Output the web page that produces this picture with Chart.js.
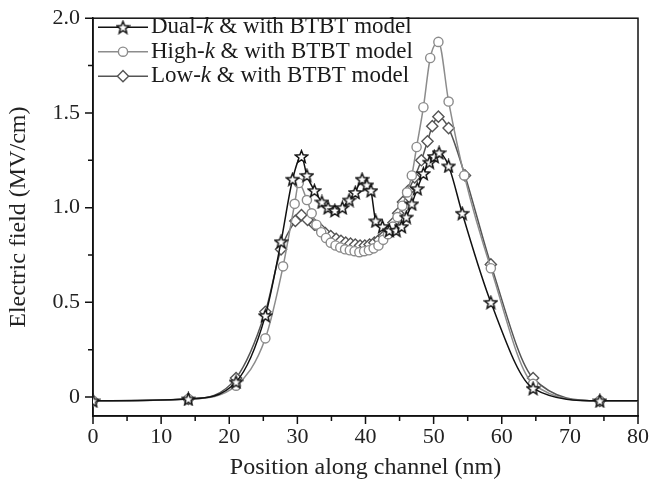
<!DOCTYPE html>
<html><head><meta charset="utf-8">
<script src="https://cdn.jsdelivr.net/npm/chart.js@4.4.0/dist/chart.umd.min.js"></script>
<style>html,body{margin:0;padding:0;background:#fff}#wrap{width:650px;height:486px;position:relative}</style>
</head><body><div id="wrap"><canvas id="c" width="650" height="486"></canvas></div>
<script>
// ---- data ----
const dualX = [0,14,21,25.3,27.6,29.3,30.6,31.4,32.5,33.6,34.5,35.5,36.6,37.6,38.5,39.5,40.2,40.8,41.5,42.5,43.5,44.5,45.3,46,46.8,47.6,48.5,49.4,50.1,50.8,52.2,54.2,58.4,64.6,74.4,80];
const dualY = [-0.02,-0.01,0.08,0.43,0.82,1.15,1.27,1.17,1.09,1.03,1.0,0.985,1.0,1.04,1.08,1.15,1.12,1.09,0.93,0.90,0.88,0.88,0.90,0.95,1.02,1.10,1.18,1.24,1.27,1.29,1.22,0.97,0.50,0.046,-0.02,-0.02];

const highX = [0,14,21,25.3,27.9,29.6,30.2,31.4,32.1,32.8,33.5,34.2,34.9,35.6,36.3,37,37.7,38.4,39.1,39.8,40.5,41.2,41.9,42.6,43.3,44,44.7,45.4,46.1,46.8,47.5,48.5,49.5,50.7,52.2,54.5,58.4,64.6,74.4,80];
const highY = [-0.02,-0.01,0.06,0.31,0.69,1.02,1.13,1.04,0.97,0.91,0.87,0.84,0.815,0.80,0.79,0.78,0.775,0.77,0.765,0.77,0.775,0.785,0.80,0.83,0.86,0.90,0.95,1.01,1.08,1.17,1.32,1.53,1.79,1.875,1.56,1.17,0.68,0.07,-0.02,-0.02];

const lowX = [0,14,21,25.3,27.6,29.7,30.6,31.5,32.5,33.3,34.1,34.9,35.7,36.4,37.1,37.8,38.5,39.2,39.9,40.6,41.3,42,42.7,43.4,44.1,44.8,45.5,46.3,47.2,48.2,49.1,49.8,50.7,52.2,54.6,58.4,64.6,74.4,80];
const lowY = [-0.02,-0.01,0.10,0.45,0.78,0.93,0.96,0.935,0.91,0.89,0.865,0.85,0.835,0.825,0.815,0.81,0.805,0.80,0.80,0.805,0.815,0.83,0.85,0.88,0.92,0.97,1.03,1.09,1.16,1.25,1.35,1.43,1.48,1.42,1.17,0.70,0.10,-0.02,-0.02];

const legendPrefix = ['Dual-','High-','Low-'];
const legendItalic = 'k';
const legendSuffix = ' & with BTBT model';
const xTitle = 'Position along channel (nm)';
const yTitle = 'Electric field (MV/cm)';
const yTickValues = [0,0.5,1.0,1.5,2.0];
const xTickValues = [0,10,20,30,40,50,60,70,80];

// ---- styling ----
const FONT = '"Liberation Serif","DejaVu Serif",serif';
const colors = ['#111111','#8c8c8c','#555555'];

function makeStar(color){
  const s=15, c=document.createElement('canvas'); c.width=s; c.height=s;
  const g=c.getContext('2d'); const R=6.4, r=2.8, cx=s/2, cy=s/2+0.6;
  g.beginPath();
  for(let i=0;i<10;i++){const rad=i%2?r:R; const a=-Math.PI/2+i*Math.PI/5; g.lineTo(cx+rad*Math.cos(a), cy+rad*Math.sin(a));}
  g.closePath(); g.fillStyle='#fff'; g.fill(); g.lineWidth=1.5; g.strokeStyle=color; g.stroke();
  return c;
}
const starImg = makeStar(colors[0]);

const pts = (xs,ys)=>xs.map((x,i)=>({x, y: ys[i]}));
const radiusFn = (r)=> (ctx)=> (ctx.raw && ctx.raw.x >= 80) ? 0 : r;

const styles = [
  {pointStyle: starImg, radius: 6},
  {pointStyle: 'circle', radius: 4.6},
  {pointStyle: 'rectRot', radius: 5.6}
];

const datasets = [pts(dualX,dualY), pts(highX,highY), pts(lowX,lowY)].map((d,i)=>({
  label: legendPrefix[i]+legendItalic+legendSuffix,
  data: d,
  borderColor: colors[i],
  backgroundColor: '#fff',
  borderWidth: 1.5,
  pointStyle: styles[i].pointStyle,
  pointRadius: radiusFn(styles[i].radius),
  pointBorderWidth: 1.4,
  pointBorderColor: colors[i],
  pointBackgroundColor: '#fff',
  cubicInterpolationMode: 'monotone',
  order: i
}));

const framePlugin = {
  id: 'frame',
  beforeDatasetsDraw(chart){
    const {ctx, chartArea:a, scales:{x,y}} = chart;
    ctx.save();
    ctx.strokeStyle = '#111'; ctx.lineWidth = 1.5;
    ctx.strokeRect(a.left, a.top, a.right-a.left, a.bottom-a.top);
    ctx.beginPath();
    for(let v=x.min; v<=x.max+1e-9; v+=5){
      const px = x.getPixelForValue(v); const L = (Math.round(v)%10===0)?8:5;
      ctx.moveTo(px, a.bottom); ctx.lineTo(px, a.bottom+L);
    }
    for(let v=0; v<=y.max+1e-9; v+=0.25){
      const py = y.getPixelForValue(v); const L = (Math.round(v*100)%50===0)?8:5;
      ctx.moveTo(a.left-L, py); ctx.lineTo(a.left, py);
    }
    ctx.stroke();
    ctx.restore();
  }
};

const legendPlugin = {
  id: 'customLegend',
  afterDatasetsDraw(chart){
    const {ctx, chartArea:a} = chart;
    ctx.save();
    const rowH = 24.5, x0 = a.left+5, lineLen = 50, top = a.top+9, fs = 23;
    chart.data.datasets.forEach((ds,i)=>{
      const yy = top + i*rowH;
      ctx.strokeStyle = ds.borderColor; ctx.lineWidth = 1.5;
      ctx.beginPath(); ctx.moveTo(x0, yy); ctx.lineTo(x0+lineLen, yy); ctx.stroke();
      ctx.fillStyle = '#fff'; ctx.strokeStyle = ds.borderColor; ctx.lineWidth = 1.4;
      Chart.helpers.drawPoint(ctx, {pointStyle: ds.pointStyle, radius: styles[i].radius, borderWidth: 1.4, rotation: 0}, x0+lineLen/2, yy);
      ctx.fillStyle = '#1a1a1a'; ctx.textBaseline = 'middle'; ctx.textAlign='left';
      let tx = x0+lineLen+3;
      ctx.font = fs+'px '+FONT; ctx.fillText(legendPrefix[i], tx, yy); tx += ctx.measureText(legendPrefix[i]).width;
      ctx.font = 'italic '+fs+'px '+FONT; ctx.fillText(legendItalic, tx, yy); tx += ctx.measureText(legendItalic).width;
      ctx.font = fs+'px '+FONT; ctx.fillText(legendSuffix, tx, yy);
    });
    ctx.restore();
  }
};

new Chart(document.getElementById('c'), {
  type: 'line',
  data: { datasets },
  options: {
    responsive: false,
    devicePixelRatio: 1,
    animation: false,
    layout: { padding: { top: 18, right: 12, left: 0, bottom: 0 } },
    plugins: { legend: { display: false }, tooltip: { enabled: false } },
    scales: {
      x: {
        type: 'linear', min: 0, max: 80,
        afterBuildTicks: (s)=>{ s.ticks = xTickValues.map(v=>({value:v})); },
        afterFit: (s)=>{ s.height = 70; },
        grid: { display: true, drawOnChartArea: false, drawTicks: true, tickLength: 8, color: 'transparent' },
        border: { display: true, color: '#111', width: 1.5 },
        ticks: { color: '#222', font: { family: FONT, size: 22 }, padding: 0, maxRotation: 0 },
        title: { display: true, text: xTitle, color: '#222', font: { family: FONT, size: 24 }, padding: { top: 1 } }
      },
      y: {
        type: 'linear', min: -0.1, max: 2.0,
        afterBuildTicks: (s)=>{ s.ticks = yTickValues.map(v=>({value:v})); },
        afterFit: (s)=>{ s.width = 93; },
        grid: { display: true, drawOnChartArea: false, drawTicks: true, tickLength: 8, color: 'transparent' },
        border: { display: true, color: '#111', width: 1.5 },
        ticks: { color: '#222', font: { family: FONT, size: 22 }, padding: 5,
          callback: (v)=> v===0 ? '0' : Number(v).toFixed(1) },
        title: { display: true, text: yTitle, color: '#222', font: { family: FONT, size: 24 }, padding: { bottom: 3 } }
      }
    }
  },
  plugins: [framePlugin, legendPlugin]
});
</script>
</body></html>
